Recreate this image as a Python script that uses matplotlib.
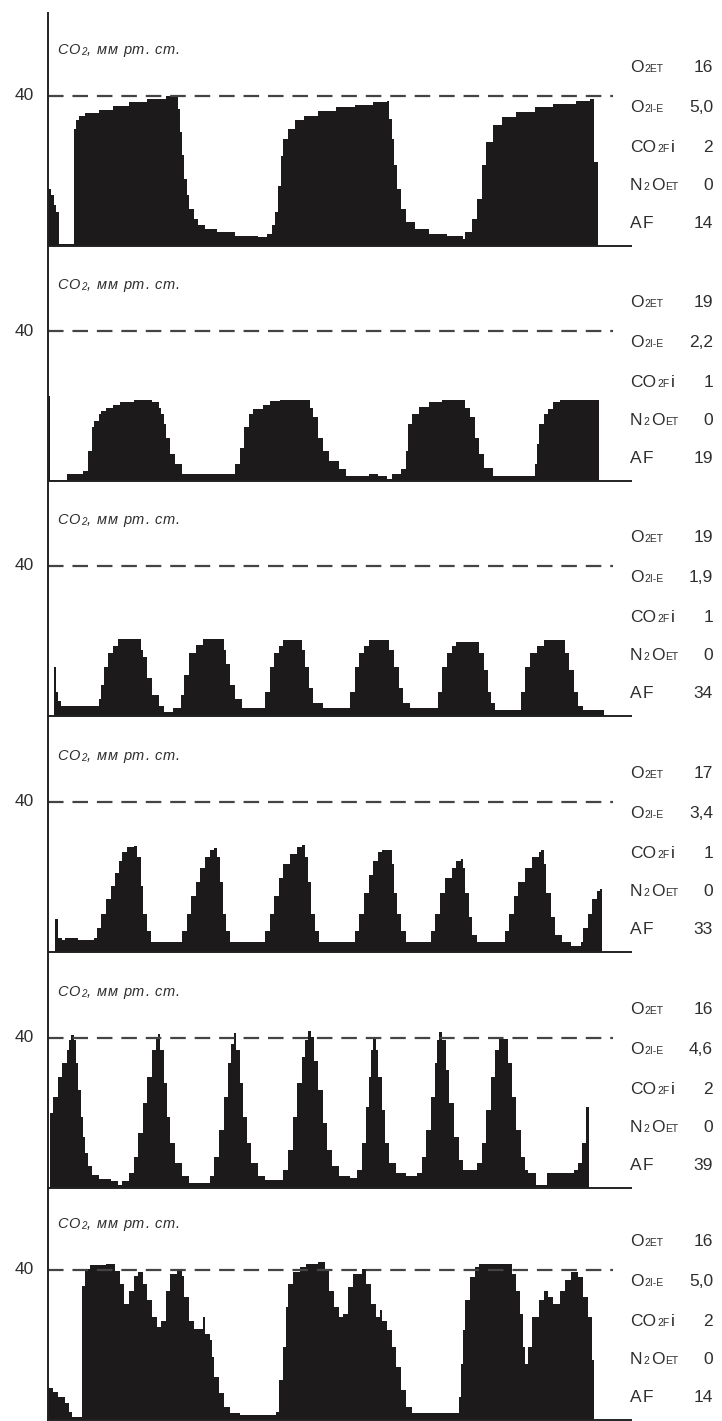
import matplotlib
matplotlib.use("Agg")
import matplotlib.pyplot as plt
import matplotlib.transforms as mtrans
import numpy as np

plt.rcParams["font.family"] = ["Liberation Sans", "DejaVu Sans"]

# capnogram traces: sample index (monitor pixels) and CO2, mm Hg
p1_t = [0, 3, 6, 8, 11, 26, 28, 31, 37, 51, 65, 81, 99, 118, 127, 130, 132, 134, 136, 139,
        141, 146, 150, 157, 169, 187, 210, 219, 224, 227, 230, 233, 235, 240, 247, 256, 270,
        288, 307, 325, 339, 341, 344, 346, 349, 353, 358, 367, 381, 399, 413, 415, 417, 424,
        429, 434, 438, 445, 454, 468, 487, 505, 528, 542, 546, 550]
p1_co2 = [15.3, 13.5, 11.0, 9.0, 0.5, 31.3, 33.5, 34.8, 35.6, 36.4, 37.3, 38.4, 39.3, 40.0,
          40.2, 36.6, 30.4, 24.2, 18.0, 13.5, 10.0, 7.3, 5.5, 4.6, 3.7, 2.8, 2.4, 3.3, 5.5,
          9.0, 16.0, 24.0, 28.6, 31.3, 33.5, 34.8, 35.9, 37.0, 37.7, 38.4, 38.8, 34.0, 28.6,
          21.5, 15.3, 10.0, 6.4, 4.6, 3.3, 2.8, 2.7, 2.0, 3.7, 7.3, 12.6, 21.5, 27.7, 32.2,
          34.4, 35.7, 37.0, 38.0, 38.8, 39.3, 22.4, 0.0]

p2_t = [0, 2, 19, 35, 40, 44, 46, 51, 53, 58, 65, 72, 86, 104, 111, 113, 116, 118, 122, 127,
        134, 187, 192, 196, 201, 205, 215, 222, 232, 262, 265, 270, 275, 281, 291, 298, 321,
        330, 339, 344, 353, 358, 360, 364, 371, 381, 394, 417, 422, 427, 431, 436, 445, 487,
        489, 491, 496, 500, 505, 512, 551]
p2_co2 = [22.8, 0.4, 1.8, 2.7, 8.0, 14.3, 16.0, 17.9, 18.8, 19.6, 20.4, 21.0, 21.7, 21.0,
          19.6, 17.9, 15.2, 11.6, 7.1, 4.5, 2.0, 4.5, 8.9, 14.3, 17.9, 19.2, 20.3, 21.4,
          21.7, 19.6, 17.0, 11.6, 8.0, 5.4, 3.1, 1.3, 2.0, 1.3, 0.6, 1.8, 3.1, 8.0, 15.2,
          17.9, 19.8, 21.0, 21.7, 19.6, 17.0, 11.6, 7.1, 3.6, 1.3, 4.5, 9.8, 15.2, 17.9,
          19.2, 21.0, 21.7, 0.0]

p3_t = [0, 6, 8, 10, 13, 51, 53, 56, 60, 65, 70, 93, 95, 99, 104, 111, 116, 125, 133, 136,
        141, 148, 155, 176, 178, 182, 187, 194, 217, 222, 226, 231, 235, 254, 257, 261, 265,
        275, 302, 307, 311, 316, 321, 341, 346, 351, 355, 362, 390, 394, 399, 404, 408, 431,
        436, 440, 443, 447, 473, 477, 482, 489, 496, 517, 521, 526, 530, 535, 556]
p3_co2 = [0.0, 13.0, 6.4, 4.0, 2.6, 4.5, 8.3, 13.0, 16.8, 18.7, 20.5, 17.5, 15.8, 10.2, 5.5,
          2.6, 1.2, 2.2, 5.5, 11.0, 16.8, 19.0, 20.5, 17.7, 14.0, 8.3, 4.5, 2.2, 6.4, 13.0,
          16.8, 18.7, 20.2, 17.7, 13.0, 7.5, 3.6, 2.2, 6.4, 13.0, 16.8, 18.7, 20.2, 17.7,
          13.0, 7.5, 3.6, 2.2, 6.4, 13.0, 16.8, 18.7, 19.8, 16.8, 12.3, 6.4, 3.6, 1.7, 6.4,
          13.0, 16.8, 18.7, 20.2, 16.8, 12.3, 6.4, 2.6, 1.7, 0.0]

p4_t = [0, 7, 10, 14, 17, 30, 46, 49, 53, 58, 63, 67, 71, 74, 79, 86, 89, 93, 95, 99, 103,
        134, 139, 143, 148, 152, 157, 162, 166, 169, 172, 175, 178, 182, 217, 222, 226, 231,
        235, 242, 249, 254, 257, 260, 263, 267, 271, 307, 311, 316, 321, 325, 330, 334, 344,
        346, 349, 353, 358, 383, 387, 392, 397, 404, 408, 413, 415, 417, 421, 424, 429, 457,
        461, 466, 470, 477, 484, 491, 493, 496, 498, 503, 507, 514, 523, 533, 535, 540, 544,
        549, 552, 554]
p4_co2 = [0.0, 8.8, 3.6, 3.1, 3.6, 3.1, 3.6, 6.4, 10.2, 14.0, 17.7, 21.0, 24.3, 26.7, 28.1,
          28.3, 25.3, 17.7, 10.2, 5.5, 2.6, 5.5, 10.2, 14.9, 18.7, 22.5, 25.3, 27.2, 27.8,
          25.3, 18.7, 10.2, 5.5, 2.6, 5.5, 10.2, 14.9, 19.6, 23.4, 26.2, 28.1, 28.6, 25.3,
          18.7, 10.2, 5.5, 2.6, 5.5, 10.2, 15.8, 20.6, 24.3, 26.7, 27.2, 23.4, 15.8, 10.2,
          5.5, 2.6, 5.5, 10.2, 15.8, 19.6, 22.5, 24.3, 24.8, 22.5, 15.8, 9.2, 4.5, 2.6, 5.5,
          10.2, 14.9, 18.7, 22.5, 25.3, 26.7, 27.2, 23.4, 15.8, 9.2, 4.5, 2.6, 1.7, 2.6, 6.4,
          10.2, 14.0, 16.3, 16.8, 0.0]

p5_t = [0, 2, 5, 10, 14, 19, 21, 23, 26, 28, 30, 33, 35, 37, 40, 44, 51, 63, 70, 74, 81, 86,
        90, 95, 99, 104, 108, 110, 112, 116, 119, 122, 127, 134, 141, 162, 166, 171, 176, 180,
        183, 186, 188, 192, 195, 199, 203, 210, 217, 235, 240, 245, 249, 254, 257, 260, 263,
        266, 270, 275, 279, 284, 291, 302, 309, 314, 318, 321, 323, 325, 328, 330, 334, 337,
        341, 348, 358, 369, 374, 378, 383, 387, 389, 391, 394, 398, 401, 406, 411, 415, 429,
        434, 438, 443, 447, 451, 460, 464, 468, 473, 477, 480, 488, 499, 526, 530, 534, 538,
        541]
p5_co2 = [0.0, 19.9, 24.3, 29.6, 33.2, 36.7, 39.4, 40.7, 39.4, 33.2, 26.1, 19.0, 13.7, 9.3,
          5.8, 3.5, 2.4, 1.8, 0.9, 1.8, 4.0, 8.4, 14.6, 22.6, 29.6, 36.7, 39.8, 41.0, 36.7,
          27.9, 19.0, 12.0, 6.6, 3.1, 1.3, 3.1, 8.4, 15.5, 24.3, 33.2, 38.5, 41.2, 36.7,
          27.9, 19.0, 12.0, 6.6, 3.1, 2.2, 4.9, 10.2, 19.0, 27.9, 35.0, 39.4, 41.8, 40.3,
          34.0, 26.1, 17.3, 10.2, 5.8, 3.1, 2.7, 4.9, 12.0, 21.7, 29.6, 36.7, 40.0, 36.7,
          29.6, 20.8, 12.0, 6.6, 4.0, 3.1, 4.0, 8.4, 15.5, 24.3, 33.2, 39.4, 41.6, 39.4, 31.4,
          22.6, 13.7, 7.5, 4.9, 6.6, 12.0, 20.8, 29.6, 36.7, 39.8, 33.2, 24.3, 15.5, 8.4, 4.9,
          4.0, 0.9, 4.0, 4.9, 6.6, 12.0, 21.7, 0.0]

p6_t = [0, 5, 10, 17, 21, 24, 34, 37, 42, 58, 67, 72, 76, 81, 86, 90, 95, 99, 104, 109, 113,
        118, 122, 129, 134, 136, 141, 146, 155, 157, 162, 164, 166, 171, 176, 182, 192, 228,
        231, 235, 238, 240, 245, 252, 258, 270, 277, 281, 286, 291, 295, 300, 305, 314, 318,
        323, 328, 332, 334, 339, 344, 348, 353, 358, 364, 411, 413, 415, 417, 422, 427, 431,
        464, 468, 472, 475, 477, 480, 484, 491, 496, 500, 505, 512, 517, 523, 530, 535, 540,
        544, 546]
p6_co2 = [8.4, 7.5, 6.2, 4.4, 2.2, 0.9, 35.8, 40.3, 41.2, 41.6, 39.8, 36.3, 31.0, 34.5, 38.5,
          39.4, 36.3, 31.9, 27.4, 24.8, 26.5, 34.5, 38.9, 39.8, 38.5, 32.7, 26.5, 24.3, 27.4,
          23.0, 21.2, 16.8, 11.5, 7.1, 3.5, 1.9, 1.3, 2.2, 10.6, 19.5, 30.1, 36.3, 39.4, 40.7,
          41.6, 42.0, 39.8, 34.5, 30.1, 27.4, 28.3, 35.4, 38.9, 40.3, 36.3, 31.0, 27.4, 29.2,
          26.5, 23.9, 19.5, 14.2, 8.0, 3.5, 1.8, 6.2, 15.0, 23.9, 31.9, 38.0, 40.7, 41.6, 38.9,
          34.5, 28.3, 19.5, 15.0, 19.5, 27.4, 31.9, 34.5, 32.7, 31.0, 34.5, 37.2, 39.4, 38.0,
          32.7, 27.4, 16.0, 0.0]

traces = [(p1_t, p1_co2), (p2_t, p2_co2), (p3_t, p3_co2),
          (p4_t, p4_co2), (p5_t, p5_co2), (p6_t, p6_co2)]

# monitor read-outs beside each trace
o2_et = ["16", "19", "19", "17", "16", "16"]
o2_ie = ["5,0", "2,2", "1,9", "3,4", "4,6", "5,0"]
co2_fi = ["2", "1", "1", "1", "2", "2"]
n2o_et = ["0", "0", "0", "0", "0", "0"]
af = ["14", "19", "34", "33", "39", "14"]

BIG, SMALL = 12.5, 7.5
row_names = [
    [("O", BIG, 0), ("2ET", SMALL, 0)],
    [("O", BIG, 0), ("2I-E", SMALL, 0)],
    [("CO", BIG, 0), ("2F", SMALL, 0), ("i", BIG, 0)],
    [("N", BIG, 0), ("2", SMALL, 0), ("O", BIG, 0), ("ET", SMALL, 0)],
    [("A", BIG, 0), ("F", BIG, 0)],
]
row_y = [46.4, 35.8, 25.1, 14.9, 4.8]   # text baselines, in mm Hg of the panel

W, H = 722, 1421
PX_PER_MMHG = 3.75
X0, X1 = 48, 631
tops = [13, 246, 481, 716, 952, 1188]
bases = [246, 481, 716, 952, 1188, 1420]

INK = "#1c1a1a"
TXT = "#2e2e2e"

fig = plt.figure(figsize=(W / 100, H / 100), dpi=100)
fig.patch.set_facecolor("white")
rend = fig.canvas.get_renderer()


def put_runs(ax, x, y, runs, track=0.0, space=4.0, **kw):
    """Write text pieces one after another on a common baseline (pixel advance)."""
    dx = 0.0
    for s, size, dy in runs:
        if s == " ":
            dx += space
            continue
        tr = mtrans.offset_copy(ax.transData, fig=fig, x=dx, y=dy, units="dots")
        t = ax.text(x, y, s, fontsize=size, transform=tr, ha="left", va="baseline",
                    clip_on=False, color=TXT, **kw)
        dx += t.get_window_extent(renderer=rend).width + track
    return dx


for i, (t, v) in enumerate(traces):
    top, base = tops[i], bases[i]
    ax = fig.add_axes([X0 / W, 1 - base / H, (X1 - X0) / W, (base - top) / H])
    ax.set_xlim(0, X1 - X0)
    ax.set_ylim(0, (base - top) / PX_PER_MMHG)
    ax.patch.set_alpha(0)
    for side in ("top", "right"):
        ax.spines[side].set_visible(False)
    for side in ("left", "bottom"):
        ax.spines[side].set_linewidth(1.4)
        ax.spines[side].set_color("#222222")
    ax.set_xticks([])
    ax.set_yticks([])

    ax.fill_between(np.array(t), np.array(v), step="post", color=INK, linewidth=0)
    ax.plot([0, 565], [40, 40], color="#444444", lw=1.6, ls=(0, (7, 4)))
    ax.text(-14, 40, "40", ha="right", va="center", fontsize=12.5, color=TXT)

    # axis title, slightly letter-spaced italic
    title = [("C", 10.5, 0), ("O", 10.5, 0), ("2", 7, -1), (",", 10.5, 0), (" ", 0, 0),
             ("м", 10.5, 0), ("м", 10.5, 0), (" ", 0, 0), ("р", 10.5, 0), ("т", 10.5, 0),
             (".", 10.5, 0), (" ", 0, 0), ("с", 10.5, 0), ("т", 10.5, 0), (".", 10.5, 0)]
    put_runs(ax, 9, 51.3, title, track=0.9, space=4.5, style="italic")

    vals = [o2_et[i], o2_ie[i], co2_fi[i], n2o_et[i], af[i]]
    for name, y, val in zip(row_names, row_y, vals):
        put_runs(ax, 582, y, name, track=1.2)
        ax.text(665, y, val, ha="right", va="baseline", fontsize=BIG, color=TXT,
                clip_on=False)

fig.savefig("out.png", dpi=100, facecolor="white")
